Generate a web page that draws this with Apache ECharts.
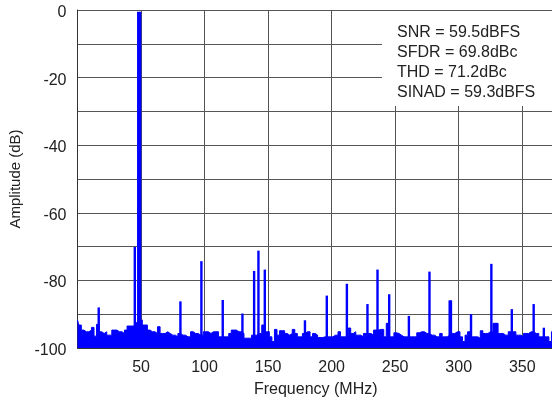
<!DOCTYPE html>
<html>
<head>
<meta charset="utf-8">
<script src="https://cdn.jsdelivr.net/npm/echarts@6/dist/echarts.min.js"></script>
<style>html,body{margin:0;padding:0;background:#fff}#c{width:552px;height:400px}</style>
</head>
<body>
<div id="c"></div>
<script>
// Noise floor, one value every 2 MHz starting at 0 MHz (dB)
const noiseStepMHz = 2;
const noiseFloor = [
  -91.7,-93.2,-94.7,-95.2,-95.2,-94.7,-93.9,-96.5,-93.0,-95.2,
  -95.7,-95.2,-96.2,-96.2,-94.7,-94.7,-95.2,-95.2,-95.7,-94.7,
  -93.5,-93.5,-93.5,-92.5,-92.0,-91.7,-93.2,-93.2,-94.7,-95.2,
  -95.2,-95.7,-93.7,-95.7,-95.7,-95.2,-95.7,-96.2,-96.2,-96.7,
  -95.7,-96.2,-96.2,-96.7,-96.7,-95.2,-95.7,-95.7,-96.2,-96.2,
  -95.2,-95.2,-95.7,-95.2,-95.2,-95.2,-96.7,-96.7,-96.7,-96.7,
  -95.7,-94.7,-94.7,-95.2,-95.2,-95.7,-97.1,-97.1,-97.1,-96.2,
  -96.2,-95.7,-95.7,-93.2,-95.2,-95.2,-96.7,-98.1,-94.5,-96.2,
  -94.9,-94.9,-95.7,-96.2,-95.7,-94.5,-95.7,-96.7,-96.7,-95.7,
  -95.2,-95.2,-96.7,-95.7,-96.2,-96.9,-96.9,-96.7,-96.7,-96.7,
  -96.7,-96.2,-96.2,-95.2,-96.7,-96.7,-96.2,-94.1,-95.7,-95.2,
  -96.2,-96.2,-96.7,-95.7,-95.7,-95.7,-96.2,-94.7,-94.7,-94.5,
  -94.5,-96.7,-92.7,-96.7,-96.7,-95.5,-95.7,-96.2,-96.7,-96.7,
  -96.7,-96.7,-96.7,-96.7,-95.5,-95.2,-95.2,-95.7,-95.7,-96.2,
  -96.2,-96.7,-96.7,-95.7,-96.7,-96.7,-96.2,-95.7,-95.7,-95.2,
  -95.2,-96.7,-98.1,-96.2,-95.2,-96.7,-96.7,-96.7,-97.1,-94.9,
  -95.7,-95.7,-95.2,-95.2,-92.7,-92.7,-95.7,-95.7,-96.2,-96.2,
  -95.2,-95.2,-95.2,-96.2,-96.2,-96.7,-95.7,-95.7,-95.2,-95.2,
  -95.7,-95.7,-96.7,-96.7,-96.7,-96.7,-98.1,-95.2
];
// Spurs / tones: frequency (MHz) and level (dB)
const spurFreqs  = [16.7, 45.1, 47.8, 49.3, 81.0, 97.5, 114.3, 129.8, 139.0, 142.4, 147.4, 179.0, 196.2, 212.0, 228.2, 236.1, 245.3, 260.8, 277.0, 292.9, 293.9, 309.7, 325.7, 329.5, 341.8, 359.0, 367.0];
const spurLevels = [-88.0, -70.1, -0.5, -0.5, -86.2, -74.3, -85.8, -89.8, -77.2, -71.2, -76.8, -91.8, -84.5, -81.0, -87.0, -76.8, -84.1, -90.5, -77.4, -85.9, -85.9, -90.0, -75.1, -92.7, -88.5, -87.0, -94.0];

const xTickLabels = [50, 100, 150, 200, 250, 300, 350];
const yTickLabels = [0, -20, -40, -60, -80, -100];
const statsLines = ['SNR = 59.5dBFS', 'SFDR = 69.8dBc', 'THD = 71.2dBc', 'SINAD = 59.3dBFS'];

const BLUE = '#0000ff';
const FONT = "'Liberation Sans', Arial, sans-serif";

const noiseData = noiseFloor.map((v, i) => [i * noiseStepMHz, v]);
noiseData.push([375, noiseFloor[noiseFloor.length - 1]]);
const spurData = spurFreqs.map((f, i) => [f, spurLevels[i]]);

const chart = echarts.init(document.getElementById('c'), null, {renderer: 'canvas'});
chart.setOption({
  animation: false,
  backgroundColor: '#fff',
  grid: {left: 77.5, top: 10, width: 476.5, height: 338, containLabel: false, outerBoundsMode: 'none'},
  xAxis: {
    type: 'value', min: 0, max: 375, interval: 50,
    name: 'Frequency (MHz)', nameLocation: 'middle', nameGap: 34,
    nameTextStyle: {fontFamily: FONT, fontSize: 16, color: '#222'},
    axisLine: {show: true, onZero: false, lineStyle: {color: '#333', width: 1}},
    axisTick: {show: false},
    axisLabel: {fontFamily: FONT, fontSize: 16, color: '#222', margin: 12,
      formatter: v => xTickLabels.indexOf(v) >= 0 ? String(v) : ''},
    splitLine: {show: true, lineStyle: {color: '#555', width: 1}}
  },
  yAxis: {
    type: 'value', min: -100, max: 0, interval: 10,
    name: 'Amplitude (dB)', nameLocation: 'middle', nameGap: 50, nameRotate: 90,
    nameTextStyle: {fontFamily: FONT, fontSize: 15, color: '#222'},
    axisLine: {show: true, lineStyle: {color: '#333', width: 1}},
    axisTick: {show: false},
    axisLabel: {fontFamily: FONT, fontSize: 16, color: '#222', margin: 11,
      verticalAlign: 'top', lineHeight: 5,
      formatter: v => yTickLabels.indexOf(v) >= 0 ? String(v) : ''},
    splitLine: {show: true, lineStyle: {color: '#555', width: 1}}
  },
  series: [
    {
      type: 'line', data: noiseData, step: 'middle', symbol: 'none',
      lineStyle: {color: BLUE, width: 1}, areaStyle: {color: BLUE, opacity: 1, origin: 'start'},
      z: 3
    },
    {
      type: 'custom', data: spurData, z: 4,
      renderItem: function (params, api) {
        const top = api.coord([api.value(0), api.value(1)]);
        const bot = api.coord([api.value(0), -100]);
        const w = 2.4;
        return {type: 'rect', shape: {x: top[0] - w / 2, y: top[1], width: w, height: bot[1] - top[1]},
          style: {fill: BLUE}};
      }
    }
  ],
  graphic: [
    {type: 'rect', left: 382, top: 11, shape: {width: 180, height: 95}, style: {fill: '#fff'}, z: 100},
    {type: 'text', left: 397, top: 23, z: 101,
      style: {text: statsLines.join('\n'), fontFamily: FONT, fontSize: 16, lineHeight: 20, fill: '#222'}}
  ]
});
</script>
</body>
</html>
